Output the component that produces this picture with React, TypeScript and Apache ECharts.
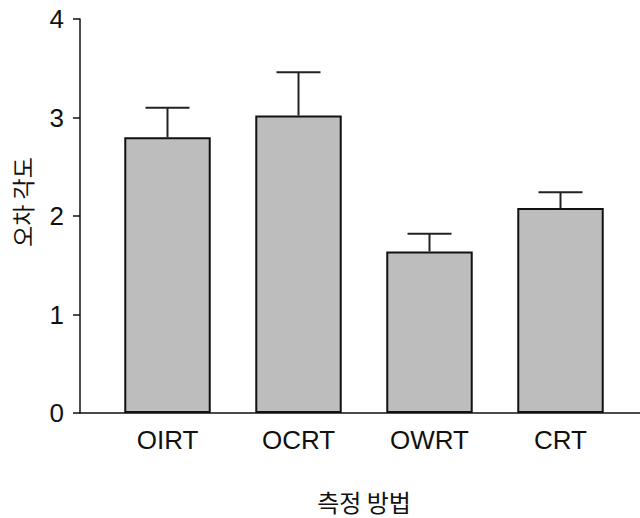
import React, { useEffect, useRef } from "react";
import * as echarts from "echarts";

const categories = ["OIRT", "OCRT", "OWRT", "CRT"];
const means = [2.8, 3.02, 1.64, 2.08];
const upper = [3.1, 3.46, 1.82, 2.24];
const yTicks = [0, 1, 2, 3, 4];
const yTitle = "오차 각도";
const xTitle = "측정 방법";

const FONT = "'Liberation Sans', Arial, 'Noto Sans CJK KR', sans-serif";
const KFONT = "'Noto Sans CJK KR', 'Liberation Sans', sans-serif";

export default function App() {
  const ref = useRef<HTMLDivElement>(null);
  useEffect(() => {
    if (!ref.current) return;
    const chart = echarts.init(ref.current, undefined, { renderer: "svg" });
    const errData = categories.map((c, i) => [i, means[i], upper[i]]);
    chart.setOption({
      animation: false,
      backgroundColor: "#ffffff",
      grid: [
        { left: 80, right: 0, top: 19, bottom: 105, containLabel: false, outerBoundsMode: "none" },
        { left: 102, right: 14, top: 19, bottom: 105, containLabel: false, outerBoundsMode: "none" },
      ],
      graphic: [
        {
          type: "text",
          x: 22,
          y: 202,
          rotation: Math.PI / 2,
          style: {
            text: yTitle,
            font: `23px ${KFONT}`,
            fill: "#111",
            align: "center",
            verticalAlign: "middle",
          },
        },
      ],
      xAxis: [
        {
          type: "value",
          gridIndex: 0,
          min: 0,
          max: 1,
          axisLine: { show: true, lineStyle: { color: "#111", width: 1.5 } },
          axisTick: { show: false },
          axisLabel: { show: false },
          splitLine: { show: false },
        },
        {
          type: "category",
          gridIndex: 1,
          data: categories,
          axisLine: { show: false },
          axisTick: { show: false },
          axisLabel: {
            color: "#111",
            fontSize: 26,
            fontFamily: FONT,
            margin: 14,
          },
          name: xTitle,
          nameLocation: "middle",
          nameGap: 76,
          nameTextStyle: { color: "#111", fontSize: 24, fontFamily: KFONT },
        },
      ],
      yAxis: [
        {
          type: "value",
          gridIndex: 0,
          min: yTicks[0],
          max: yTicks[yTicks.length - 1],
          interval: 1,
          axisLine: { show: true, lineStyle: { color: "#111", width: 1.5 } },
          axisTick: { show: true, length: 7, lineStyle: { color: "#111", width: 1.5 } },
          axisLabel: { color: "#111", fontSize: 26, fontFamily: FONT, margin: 16 },
          splitLine: { show: false },
        },
        {
          type: "value",
          gridIndex: 1,
          min: yTicks[0],
          max: yTicks[yTicks.length - 1],
          interval: 1,
          show: false,
        },
      ],
      series: [
        {
          type: "bar",
          xAxisIndex: 1,
          yAxisIndex: 1,
          data: means,
          barWidth: "66%",
          itemStyle: { color: "#bdbdbd", borderColor: "#111", borderWidth: 2 },
          z: 2,
        },
        {
          type: "custom",
          xAxisIndex: 1,
          yAxisIndex: 1,
          data: errData,
          z: 3,
          renderItem: (params: any, api: any) => {
            const x = api.value(0);
            const base = api.coord([x, api.value(1)]);
            const top = api.coord([x, api.value(2)]);
            const half = 22;
            const style = { stroke: "#222", lineWidth: 2 };
            return {
              type: "group",
              children: [
                { type: "line", shape: { x1: base[0], y1: base[1], x2: top[0], y2: top[1] }, style },
                { type: "line", shape: { x1: top[0] - half, y1: top[1], x2: top[0] + half, y2: top[1] }, style },
              ],
            };
          },
        },
      ],
    });
    return () => chart.dispose();
  }, []);
  return (
    <div
      ref={ref}
      style={{ position: "fixed", left: 0, top: 0, width: 640, height: 518 }}
    />
  );
}
